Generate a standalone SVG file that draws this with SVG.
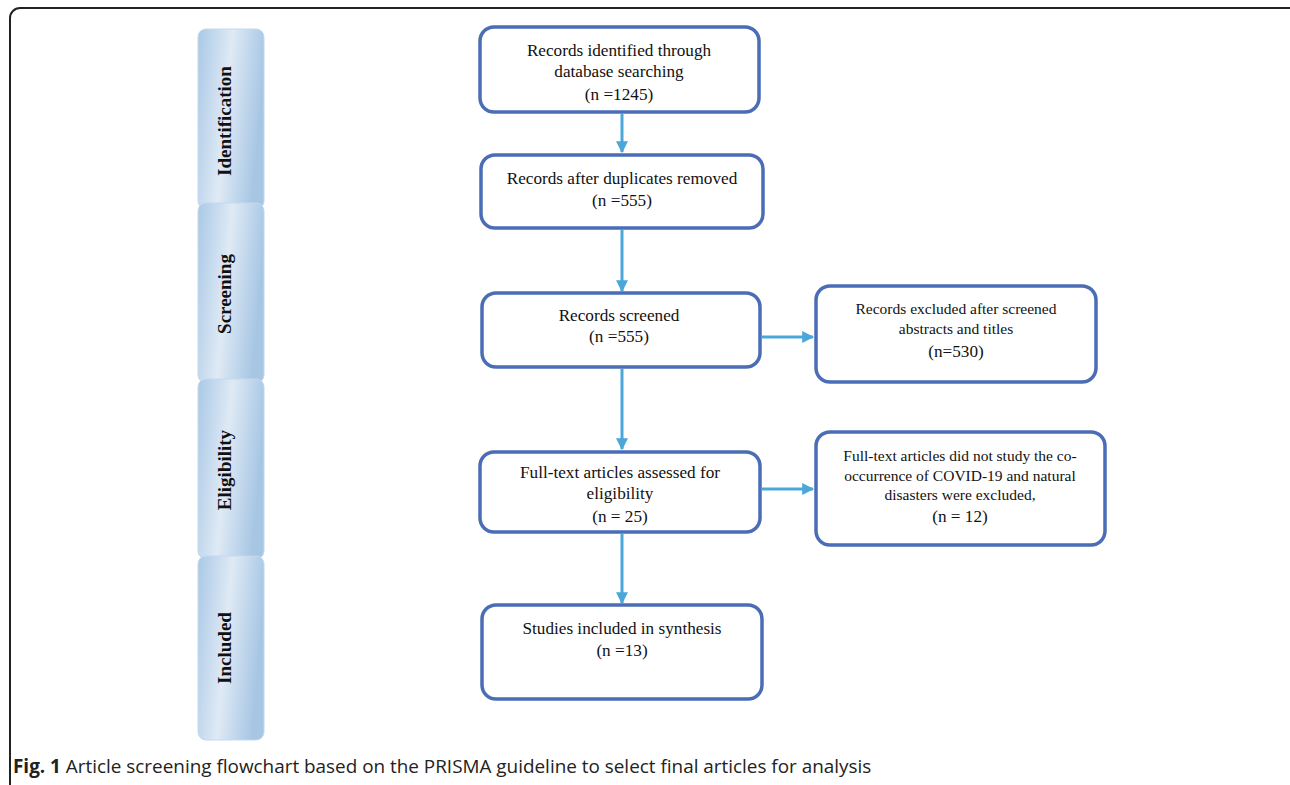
<svg xmlns="http://www.w3.org/2000/svg" width="1290" height="785" viewBox="0 0 1290 785">
<defs>
<linearGradient id="bar" x1="0" y1="0" x2="1" y2="0.25">
<stop offset="0" stop-color="#a9c8e6"/>
<stop offset="0.5" stop-color="#dfeaf5"/>
<stop offset="1" stop-color="#a7c6e4"/>
</linearGradient>
<marker id="ah" viewBox="0 0 10 10" refX="9" refY="5" markerWidth="4" markerHeight="4" markerUnits="strokeWidth" orient="auto">
<path d="M0,0 L10,5 L0,10 z" fill="#4aa7d8"/>
</marker>
<style>
.frame{fill:none;stroke:#222;stroke-width:2}
.bar{fill:url(#bar);stroke:#c5d9ee;stroke-width:1}
.bt{font-family:"Liberation Serif",serif;font-weight:bold;font-size:19px;fill:#111;text-anchor:middle}
.box{fill:#fff;stroke:#4a6db5;stroke-width:3.5}
.t{font-family:"Liberation Serif",serif;font-size:17.2px;fill:#111;text-anchor:middle}
.ts{font-family:"Liberation Serif",serif;font-size:15.5px;fill:#111;text-anchor:middle}
.c{stroke:#4aa7d8;stroke-width:3;fill:none;marker-end:url(#ah)}
.cap{font-family:"Open Sans",sans-serif;font-size:18.9px;fill:#222}
</style>
</defs>
<rect class="frame" x="10" y="8" width="1300" height="800" rx="10"/>
<g id="bar-identification"><rect class="bar" x="198" y="29" width="66" height="180" rx="8"/><text class="bt" transform="translate(231,121) rotate(-90)">Identification</text></g>
<g id="bar-screening"><rect class="bar" x="198" y="203" width="66" height="180" rx="8"/><text class="bt" transform="translate(231,294) rotate(-90)">Screening</text></g>
<g id="bar-eligibility"><rect class="bar" x="198" y="379" width="66" height="180" rx="8"/><text class="bt" transform="translate(231,470) rotate(-90)">Eligibility</text></g>
<g id="bar-included"><rect class="bar" x="198" y="556" width="66" height="184" rx="8"/><text class="bt" transform="translate(231,648) rotate(-90)">Included</text></g>
<g id="connectors">
<line class="c" x1="622" y1="114" x2="622" y2="152"/>
<line class="c" x1="622" y1="230" x2="622" y2="291"/>
<line class="c" x1="622" y1="369" x2="622" y2="449"/>
<line class="c" x1="622" y1="534" x2="622" y2="603"/>
<line class="c" x1="762" y1="337" x2="813" y2="337"/>
<line class="c" x1="762" y1="489" x2="813" y2="489"/>
</g>
<g id="n1"><rect class="box" x="480" y="27" width="279" height="85" rx="14"/><text class="t" x="619" y="56">Records identified through</text><text class="t" x="619" y="77">database searching</text><text class="t" x="619" y="100">(n =1245)</text></g>
<g id="n2"><rect class="box" x="481" y="155" width="282" height="73" rx="14"/><text class="t" x="622" y="184">Records after duplicates removed</text><text class="t" x="622" y="206">(n =555)</text></g>
<g id="n3"><rect class="box" x="482" y="293" width="278" height="74" rx="14"/><text class="t" x="619" y="321">Records screened</text><text class="t" x="619" y="342">(n =555)</text></g>
<g id="n4"><rect class="box" x="816" y="286" width="280" height="96" rx="14"/><text class="ts" x="956" y="314">Records excluded after screened</text><text class="ts" x="956" y="334">abstracts and titles</text><text class="t" x="956" y="357">(n=530)</text></g>
<g id="n5"><rect class="box" x="480" y="452" width="280" height="80" rx="14"/><text class="t" x="620" y="478">Full-text articles assessed for</text><text class="t" x="620" y="499">eligibility</text><text class="t" x="620" y="522">(n = 25)</text></g>
<g id="n6"><rect class="box" x="816" y="432" width="289" height="113" rx="14"/><text class="ts" x="960" y="461">Full-text articles did not study the co-</text><text class="ts" x="960" y="481">occurrence of COVID-19 and natural</text><text class="ts" x="960" y="500">disasters were excluded,</text><text class="t" x="960" y="522">(n = 12)</text></g>
<g id="n7"><rect class="box" x="482" y="605" width="280" height="94" rx="14"/><text class="t" x="622" y="634">Studies included in synthesis</text><text class="t" x="622" y="656">(n =13)</text></g>
<text class="cap" x="13" y="773"><tspan font-weight="bold">Fig. 1</tspan> Article screening flowchart based on the PRISMA guideline to select final articles for analysis</text>
</svg>
